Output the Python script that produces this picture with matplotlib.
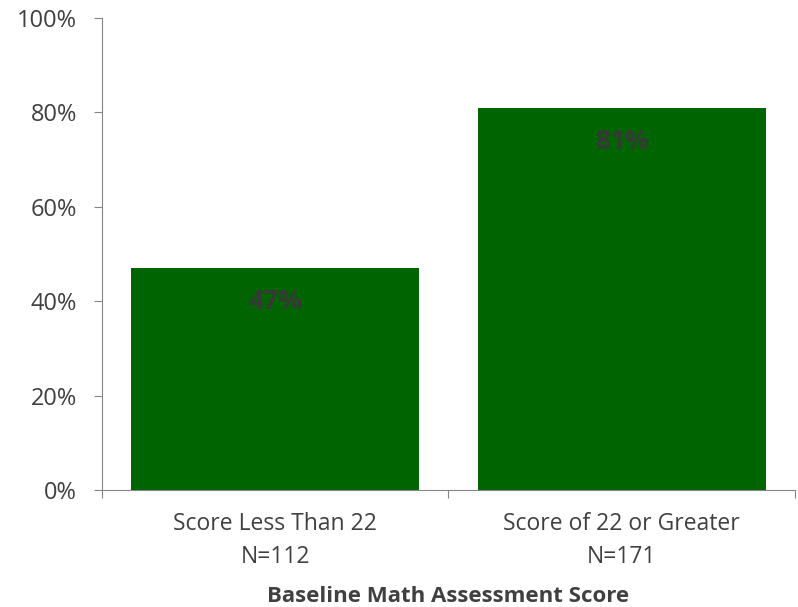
import matplotlib
matplotlib.use("Agg")
import matplotlib.pyplot as plt

plt.rcParams['font.family'] = ['Open Sans', 'DejaVu Sans']

categories = ["Score Less Than 22\nN=112", "Score of 22 or Greater\nN=171"]
values = [47, 81]
yticks = [0, 20, 40, 60, 80, 100]

text_col = "#404040"
axis_col = "#868686"

fig = plt.figure(figsize=(7.98, 6.07), dpi=100)
ax = fig.add_axes([0.1278, 0.1928, 0.8684, 0.7775])

x = list(range(len(categories)))
bars = ax.bar(x, values, width=0.83, color="#006400")

for b, v in zip(bars, values):
	ax.annotate(f"{v}%", xy=(b.get_x() + b.get_width() / 2, v),
		xytext=(0, -24), textcoords="offset points",
		ha="center", va="center", fontsize=19, fontweight="bold", color="#383838")

ax.set_xlim(-0.5, len(categories) - 0.5)
ax.set_ylim(0, 100)
ax.set_yticks(yticks)
ax.set_yticklabels([f"{t}%" for t in yticks])

# category labels between boundary ticks
ax.set_xticks([-0.5, 0.5, 1.5])
ax.set_xticklabels([])
ax.set_xticks(x, minor=True)
ax.set_xticklabels(categories, minor=True, fontsize=16.5, color=text_col, linespacing=1.5)
ax.tick_params(axis="x", which="minor", length=0, pad=16)
ax.tick_params(axis="x", which="major", length=6, color=axis_col, direction="out")
ax.tick_params(axis="y", length=6, color=axis_col, labelsize=17, labelcolor=text_col, pad=12)

ax.spines["top"].set_visible(False)
ax.spines["right"].set_visible(False)
ax.spines["left"].set_color(axis_col)
ax.spines["bottom"].set_color(axis_col)

ax.set_xlabel("Baseline Math Assessment Score", fontsize=16, fontweight="bold",
	color=text_col, labelpad=12)

fig.savefig("out.png", dpi=100)
